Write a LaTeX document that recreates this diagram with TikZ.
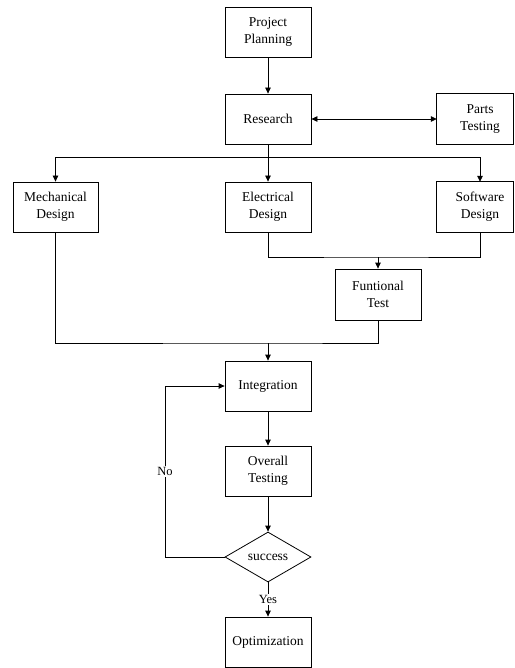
\documentclass[tikz,border=0pt]{standalone}
\usepackage{fontspec}
\setmainfont{Liberation Serif}
\usetikzlibrary{arrows.meta,shapes.geometric,calc}
\begin{document}
\begin{tikzpicture}[x=1pt,y=-1pt,
  txt/.style={font=\fontsize{13.5}{17}\selectfont},
  box/.style={txt, draw, line width=0.8pt, minimum width=86pt, minimum height=50pt, inner sep=0pt, align=center},
  plain/.style={txt, minimum width=86pt, minimum height=50pt, inner sep=0pt, align=center},
  dia/.style={txt, draw, diamond, line width=0.8pt, minimum width=86pt, minimum height=50pt, inner sep=0pt, aspect=1.72},
  ln/.style={line width=0.8pt},
  arr/.style={ln, -{Triangle[length=6pt,width=5.5pt]}},
  darr/.style={ln, {Triangle[length=6pt,width=5.5pt]}-{Triangle[length=6pt,width=5.5pt]}},
  lbl/.style={font=\fontsize{12.5}{14}\selectfont, fill=white, inner sep=1.5pt}
]
\useasboundingbox (0,0) rectangle (514,668);

\node[box] (pp) at (268,32) {Project\\Planning};
\node[box] (res) at (268,119) {Research};
\node[plain] (parts) at (480,119) {Parts\\Testing};
\draw[ln] (parts.north west) rectangle ($(parts.south east)+(-9.5,0)$);

\node[box, minimum width=85pt] (mech) at (55.5,207) {Mechanical\\Design};
\node[box] (elec) at (268,207) {Electrical\\Design};
\node[plain] (soft) at (480,207) {Software\\Design};
\draw[ln] (soft.north west) rectangle ($(soft.south east)+(-9.5,0)$);

\node[box, minimum height=51pt] (ft) at (378,294.5) {Funtional\\Test};
\node[box] (int) at (268,386) {Integration};
\node[box] (ov) at (268,471) {Overall\\Testing};
\node[dia] (suc) at (268,557) {success};
\node[box] (opt) at (268,642) {Optimization};

\coordinate (br) at (268,157);
\coordinate (m1) at (378,257);
\coordinate (m2) at (268,343);
\coordinate (lp) at (165,557);

\draw[arr] (pp) -- (res);
\draw[darr] (res) -- (parts.west);
\draw[arr] (res) -- (elec);
\draw[arr] (br) -| (mech.north);
\draw[arr] (br) -| (soft.north);
\draw[ln] (elec.south) |- (m1) -| (soft.south);
\draw[arr] (m1) -- (ft.north);
\draw[ln] (mech.south) |- (m2) -| (ft.south);
\draw[arr] (m2) -- (int.north);
\draw[arr] (int) -- (ov);
\draw[arr] (ov) -- (suc.north);
\draw[arr] (suc.south) -- node[lbl] {Yes} (opt.north);
\draw[arr] (suc.west) -- (lp) |- node[lbl, pos=0.25] {No} (int.west);
\end{tikzpicture}
\end{document}
